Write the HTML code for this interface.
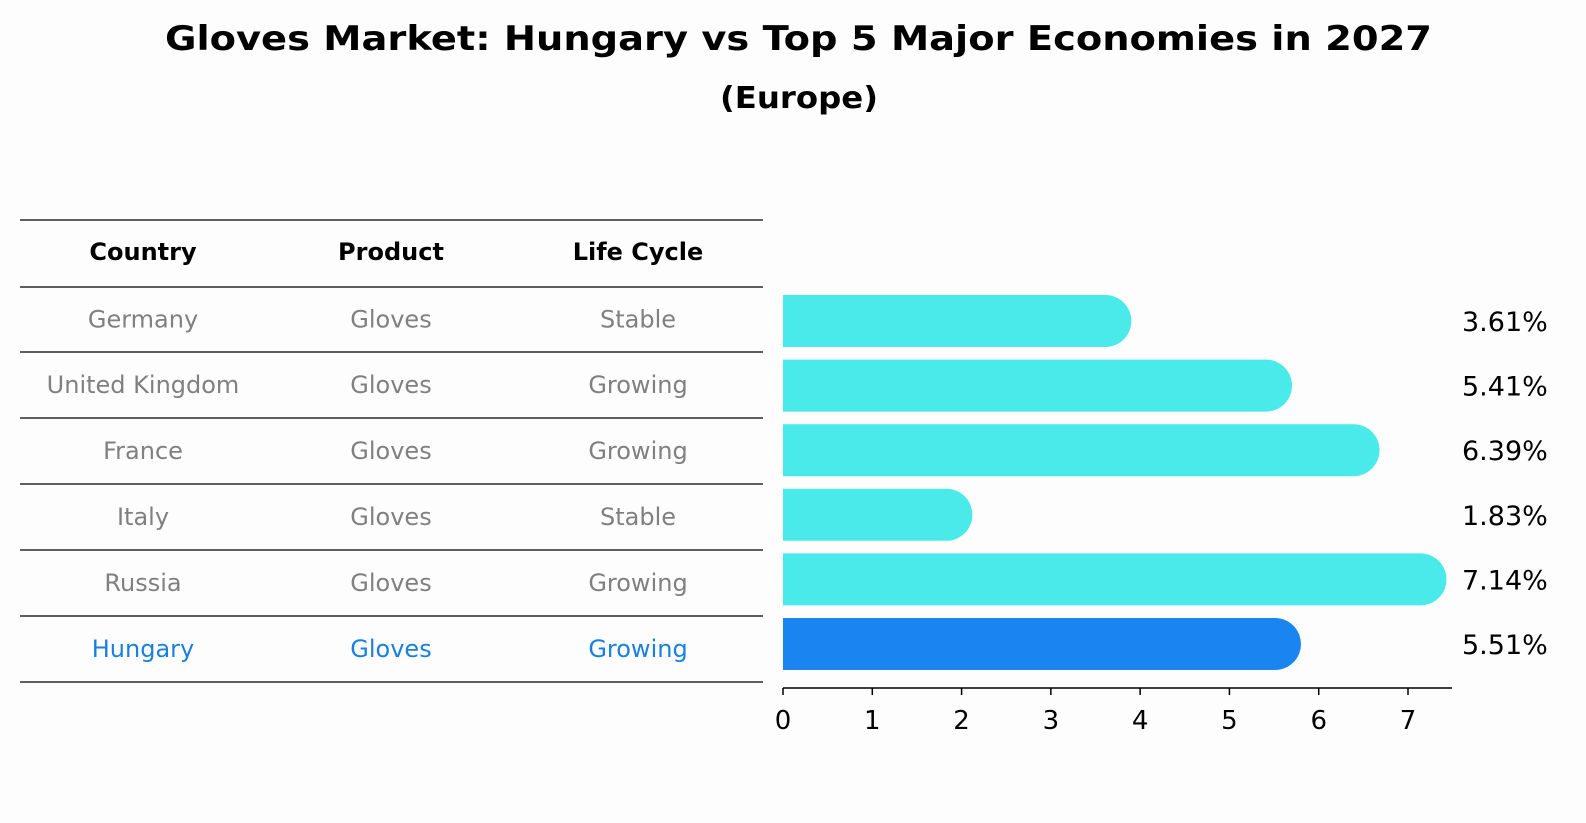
<!DOCTYPE html>
<html><head><meta charset="utf-8"><style>
html,body{margin:0;padding:0;overflow:hidden;width:1586px;height:823px;background:#fdfdfd;}
svg{display:block;}
</style></head><body>
<svg width="1586" height="823" xmlns="http://www.w3.org/2000/svg" style="font-family:'DejaVu Sans','Liberation Sans',sans-serif">
<rect width="1586" height="823" fill="#fdfdfd"/>
<text x="165" y="50" font-size="34" font-weight="bold" textLength="1267" lengthAdjust="spacingAndGlyphs">Gloves Market: Hungary vs Top 5 Major Economies in 2027</text>
<text x="720" y="108" font-size="30" font-weight="bold" textLength="158" lengthAdjust="spacingAndGlyphs">(Europe)</text>
<g id="table"></g>
<g id="bars"></g>
</svg>
<script>
const countries=["Germany","United Kingdom","France","Italy","Russia","Hungary"];
const products=["Gloves","Gloves","Gloves","Gloves","Gloves","Gloves"];
const lifeCycles=["Stable","Growing","Growing","Stable","Growing","Growing"];
const values=[3.61,5.41,6.39,1.83,7.14,5.51];
const ticks=[0,1,2,3,4,5,6,7];
const NS="http://www.w3.org/2000/svg";
function mk(t,a,p){const e=document.createElementNS(NS,t);for(const k in a)e.setAttribute(k,a[k]);p.appendChild(e);return e;}
const tbl=document.getElementById('table'),bars=document.getElementById('bars');
const x0=783,pxPer=(1408-783)/7;
const xs=v=>x0+v*pxPer;
const rowY=i=>321+i*64.6;
const lineY=[220,287,352,418,484,550,616,682];
lineY.forEach(y=>{const l=mk('line',{x1:20,x2:763,y1:y,y2:y,stroke:'#000','stroke-width':1.2},tbl);

});
const colX=[143,391,638];
["Country","Product","Life Cycle"].forEach((h,j)=>{const t=mk('text',{x:colX[j],y:260,'text-anchor':'middle','font-size':24,'font-weight':'bold'},tbl);t.textContent=h;

});
countries.forEach((c,i)=>{
 const col=i===countries.length-1?'#1a80e0':'#808080';
 const y=(lineY[i+1]+lineY[i+2])/2+8;
 [c,products[i],lifeCycles[i]].forEach((s,j)=>{const t=mk('text',{x:colX[j],y:y,'text-anchor':'middle','font-size':24,fill:col},tbl);t.textContent=s;
 
 });
 const h=52,cy=rowY(i),xe=xs(values[i]);
 const fill=i===countries.length-1?'#1a84f0':'#4aeaea';
 const p=mk('path',{d:`M${x0} ${cy-h/2} H${xe} A${h/2} ${h/2} 0 0 1 ${xe} ${cy+h/2} H${x0} Z`,fill:fill},bars);
 
 
 const t=mk('text',{x:1462,y:cy+10,'font-size':27},bars);t.textContent=values[i].toFixed(2)+'%';
 
 
});
const ax=mk('line',{x1:x0,x2:1452,y1:688,y2:688,stroke:'#000','stroke-width':1.5},bars);


ticks.forEach(v=>{const l=mk('line',{x1:xs(v),x2:xs(v),y1:688,y2:695,stroke:'#000','stroke-width':1.5},bars);


const t=mk('text',{x:xs(v),y:729,'text-anchor':'middle','font-size':26},bars);t.textContent=v;

});
</script>
</body></html>
